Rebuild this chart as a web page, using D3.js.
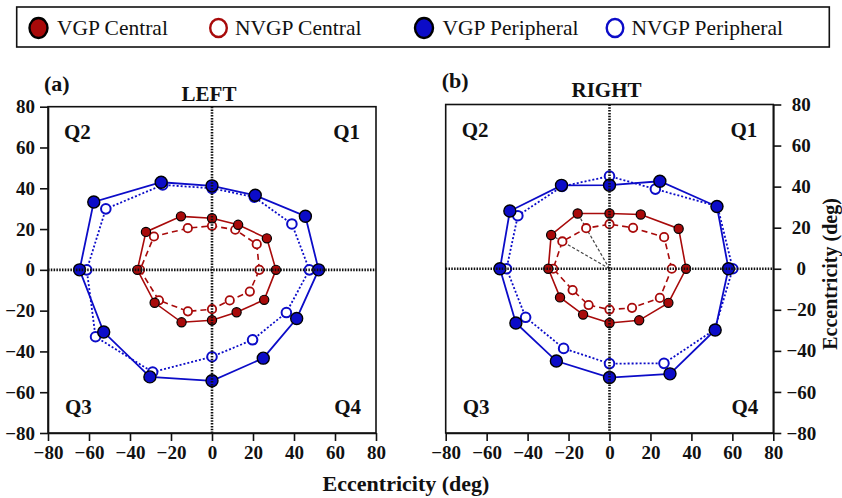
<!DOCTYPE html>
<html>
<head>
<meta charset="utf-8">
<script src="https://cdn.jsdelivr.net/npm/d3@7"></script>
<style>
  body { margin: 0; background: #fff; }
  svg { display: block; }
  svg text { font-family: "Liberation Serif", "Times New Roman", serif; }
</style>
</head>
<body>
<svg id="chart" width="842" height="498"></svg>
<script>
// meridians (deg) at which eccentricity was measured
var meridians = [0, 30, 60, 90, 120, 150, 180, 210, 240, 270, 300, 330];

// eccentricity (deg) per meridian
var leftVgpCentral      = [31.2, 30.9, 25.5, 25.3, 30.3, 37.2, 36.4, 32.3, 29.7, 24.7, 24.0, 29.4];
var leftNvgpCentral     = [23.1, 25.2, 22.7, 21.6, 23.6, 32.7, 35.1, 29.9, 23.5, 19.3, 17.3, 21.3];
var leftVgpPeripheral   = [52.0, 52.6, 42.2, 41.2, 49.6, 66.6, 64.6, 61.0, 60.6, 54.4, 50.0, 47.7];
var leftNvgpPeripheral  = [47.5, 45.0, 41.2, 40.0, 48.1, 59.8, 61.1, 65.6, 57.9, 42.6, 39.6, 41.9];

var rightVgpCentral     = [37.4, 39.0, 30.5, 26.9, 31.1, 32.9, 29.9, 27.9, 25.8, 26.4, 29.0, 33.2];
var rightNvgpCentral    = [30.4, 30.8, 23.0, 21.7, 22.8, 26.6, 27.5, 20.8, 20.4, 19.9, 22.0, 28.4];
var rightVgpPeripheral  = [58.1, 60.6, 49.2, 40.7, 46.9, 56.2, 53.5, 52.8, 51.9, 53.0, 59.1, 59.6];
var rightNvgpPeripheral = [60.2, 60.9, 44.8, 45.1, 46.3, 51.7, 50.3, 47.3, 44.8, 46.2, 53.2, 59.3];

// meridians marked with grey guide lines in the right panel
var guideMeridians = [120, 150];

var tickValues = [-80, -60, -40, -20, 0, 20, 40, 60, 80];
var legendLabels = ["VGP Central", "NVGP Central", "VGP Peripheral", "NVGP Peripheral"];

var RED = "#a80a0a", BLUE = "#0c0cc8";
var SERIF = '"Liberation Serif", "Times New Roman", serif';

var styles = {
  "VGP Central":     { line: RED,  width: 1.6, dash: null,  r: 4.6, fill: RED,  stroke: "#000", sw: 1.2 },
  "NVGP Central":    { line: RED,  width: 1.6, dash: "6,4", r: 4.2, fill: "#fff", stroke: RED, sw: 1.8 },
  "VGP Peripheral":  { line: BLUE, width: 1.8, dash: null,  r: 6,   fill: BLUE, stroke: "#000", sw: 1.4 },
  "NVGP Peripheral": { line: BLUE, width: 1.8, dash: "2,2", r: 4.8, fill: "#fff", stroke: BLUE, sw: 2 }
};

var svg = d3.select("#chart");
svg.append("rect").attr("width", 842).attr("height", 498).attr("fill", "#fff");

function toPoints(radii) {
  return meridians.map(function(m, i) {
    var a = m * Math.PI / 180;
    return { m: m, x: radii[i] * Math.cos(a), y: radii[i] * Math.sin(a) };
  });
}

function drawPanel(p) {
  var x = d3.scaleLinear().domain([-80, 80]).range([p.x0, p.x1]);
  var y = d3.scaleLinear().domain([-80, 80]).range([p.yBot, p.yTop]);
  var g = svg.append("g");

  // frame
  g.append("rect")
    .attr("x", p.x0).attr("y", p.yTop)
    .attr("width", p.x1 - p.x0).attr("height", p.yBot - p.yTop)
    .attr("fill", "none").attr("stroke", "#111").attr("stroke-width", 1.6);

  // axes
  var xAxis = g.append("g")
    .attr("transform", "translate(0," + p.yBot + ")")
    .call(d3.axisBottom(x).tickValues(tickValues).tickSize(8).tickSizeOuter(0).tickPadding(5));

  var yAxis;
  if (p.side === "left") {
    yAxis = g.append("g")
      .attr("transform", "translate(" + p.x0 + ",0)")
      .call(d3.axisLeft(y).tickValues(tickValues).tickSize(8).tickSizeOuter(0).tickPadding(5));
  } else {
    yAxis = g.append("g")
      .attr("transform", "translate(" + p.x1 + ",0)")
      .call(d3.axisRight(y).tickValues(tickValues).tickSize(8).tickSizeOuter(0).tickPadding(5));
    yAxis.selectAll(".tick text").attr("x", 28).attr("text-anchor", "middle");
  }

  [xAxis, yAxis].forEach(function(a) {
    a.attr("font-family", null).attr("font-size", null);
    a.selectAll("path.domain").attr("stroke", "#111").attr("stroke-width", 1.6);
    a.selectAll(".tick line").attr("stroke", "#111").attr("stroke-width", 1.6);
    a.selectAll(".tick text")
      .style("font-family", SERIF)
      .style("font-size", "19px").style("font-weight", "bold").attr("fill", "#111");
  });

  var line = d3.line()
    .x(function(d) { return x(d.x); })
    .y(function(d) { return y(d.y); })
    .curve(d3.curveLinearClosed);

  // grey guide lines from fixation to selected meridians
  if (p.guides) {
    var ctr = toPoints(p.series["VGP Central"]);
    g.selectAll(".guide")
      .data(ctr.filter(function(d) { return guideMeridians.indexOf(d.m) >= 0; }))
      .enter().append("line")
        .attr("x1", x(0)).attr("y1", y(0))
        .attr("x2", function(d) { return x(d.x); })
        .attr("y2", function(d) { return y(d.y); })
        .attr("stroke", "#444").attr("stroke-width", 1.2)
        .attr("stroke-dasharray", "3,2");
  }

  var order = ["NVGP Peripheral", "VGP Peripheral", "NVGP Central", "VGP Central"];

  order.forEach(function(name) {
    var s = styles[name];
    g.append("path")
      .datum(toPoints(p.series[name]))
      .attr("d", line)
      .attr("fill", "none")
      .attr("stroke", s.line)
      .attr("stroke-width", s.width)
      .attr("stroke-dasharray", s.dash);
  });

  order.forEach(function(name) {
    var s = styles[name];
    g.append("g").selectAll("circle")
      .data(toPoints(p.series[name]))
      .enter().append("circle")
        .attr("cx", function(d) { return x(d.x); })
        .attr("cy", function(d) { return y(d.y); })
        .attr("r", s.r)
        .attr("fill", s.fill)
        .attr("stroke", s.stroke)
        .attr("stroke-width", s.sw);
  });

  // dotted cross through fixation
  g.append("line")
    .attr("x1", x(0)).attr("x2", x(0)).attr("y1", p.yTop).attr("y2", p.yBot)
    .attr("stroke", "#111").attr("stroke-width", 2.6).attr("stroke-dasharray", "1.5,1.3");
  g.append("line")
    .attr("x1", p.x0).attr("x2", p.x1).attr("y1", y(0)).attr("y2", y(0))
    .attr("stroke", "#111").attr("stroke-width", 2.6).attr("stroke-dasharray", "1.5,1.3");

  // quadrant labels
  var q = g.append("g").style("font-size", "21px").style("font-weight", "bold").attr("fill", "#111");
  q.append("text").attr("x", p.x0 + 16).attr("y", p.yTop + 32).text("Q2");
  q.append("text").attr("x", p.x1 - 16).attr("y", p.yTop + 32).attr("text-anchor", "end").text("Q1");
  q.append("text").attr("x", p.x0 + 17).attr("y", p.yBot - 19).text("Q3");
  q.append("text").attr("x", p.x1 - 15).attr("y", p.yBot - 19).attr("text-anchor", "end").text("Q4");

  // panel letter and title
  g.append("text").attr("x", p.x0 - 4).attr("y", p.letterY)
    .style("font-size", "22px").style("font-weight", "bold").attr("fill", "#111").text(p.letter);
  g.append("text").attr("x", x(0) - 3).attr("y", p.titleY).attr("text-anchor", "middle")
    .style("font-size", "21px").style("font-weight", "bold").attr("fill", "#111").text(p.title);
}

drawPanel({
  x0: 48, x1: 376, yTop: 106.7, yBot: 433, side: "left",
  letter: "(a)", letterY: 91, title: "LEFT", titleY: 101, guides: false,
  series: {
    "VGP Central": leftVgpCentral, "NVGP Central": leftNvgpCentral,
    "VGP Peripheral": leftVgpPeripheral, "NVGP Peripheral": leftNvgpPeripheral
  }
});

drawPanel({
  x0: 445.7, x1: 773.3, yTop: 104.5, yBot: 433, side: "right",
  letter: "(b)", letterY: 88, title: "RIGHT", titleY: 96.5, guides: true,
  series: {
    "VGP Central": rightVgpCentral, "NVGP Central": rightNvgpCentral,
    "VGP Peripheral": rightVgpPeripheral, "NVGP Peripheral": rightNvgpPeripheral
  }
});

// axis titles
svg.append("text").attr("x", 406).attr("y", 491).attr("text-anchor", "middle")
  .style("font-size", "22px").style("font-weight", "bold").attr("fill", "#111")
  .text("Eccentricity (deg)");
svg.append("text")
  .attr("transform", "translate(837,274) rotate(-90)")
  .attr("text-anchor", "middle")
  .style("font-size", "20px").style("font-weight", "bold").attr("fill", "#111")
  .text("Eccentricity (deg)");

// legend
var legend = svg.append("g");
legend.append("rect").attr("x", 16.7).attr("y", 7).attr("width", 812.6).attr("height", 40)
  .attr("fill", "#fff").attr("stroke", "#111").attr("stroke-width", 1.6);

var legendX = [38.5, 218.5, 424, 615];
var legendItems = legend.selectAll(".item")
  .data(legendLabels)
  .enter().append("g")
    .attr("transform", function(d, i) { return "translate(" + legendX[i] + ",28)"; });

legendItems.append("ellipse")
  .attr("rx", function(d) { return styles[d].fill === "#fff" ? 8.3 : 9; })
  .attr("ry", function(d) { return styles[d].fill === "#fff" ? 9 : 10; })
  .attr("fill", function(d) { return styles[d].fill; })
  .attr("stroke", function(d) { return styles[d].stroke; })
  .attr("stroke-width", 2.4);

legendItems.append("text")
  .attr("x", function(d) { return styles[d].fill === "#fff" ? 16.5 : 18.5; })
  .attr("y", 7)
  .style("font-size", "21.5px").attr("fill", "#111")
  .text(function(d) { return d; });
</script>
</body>
</html>
